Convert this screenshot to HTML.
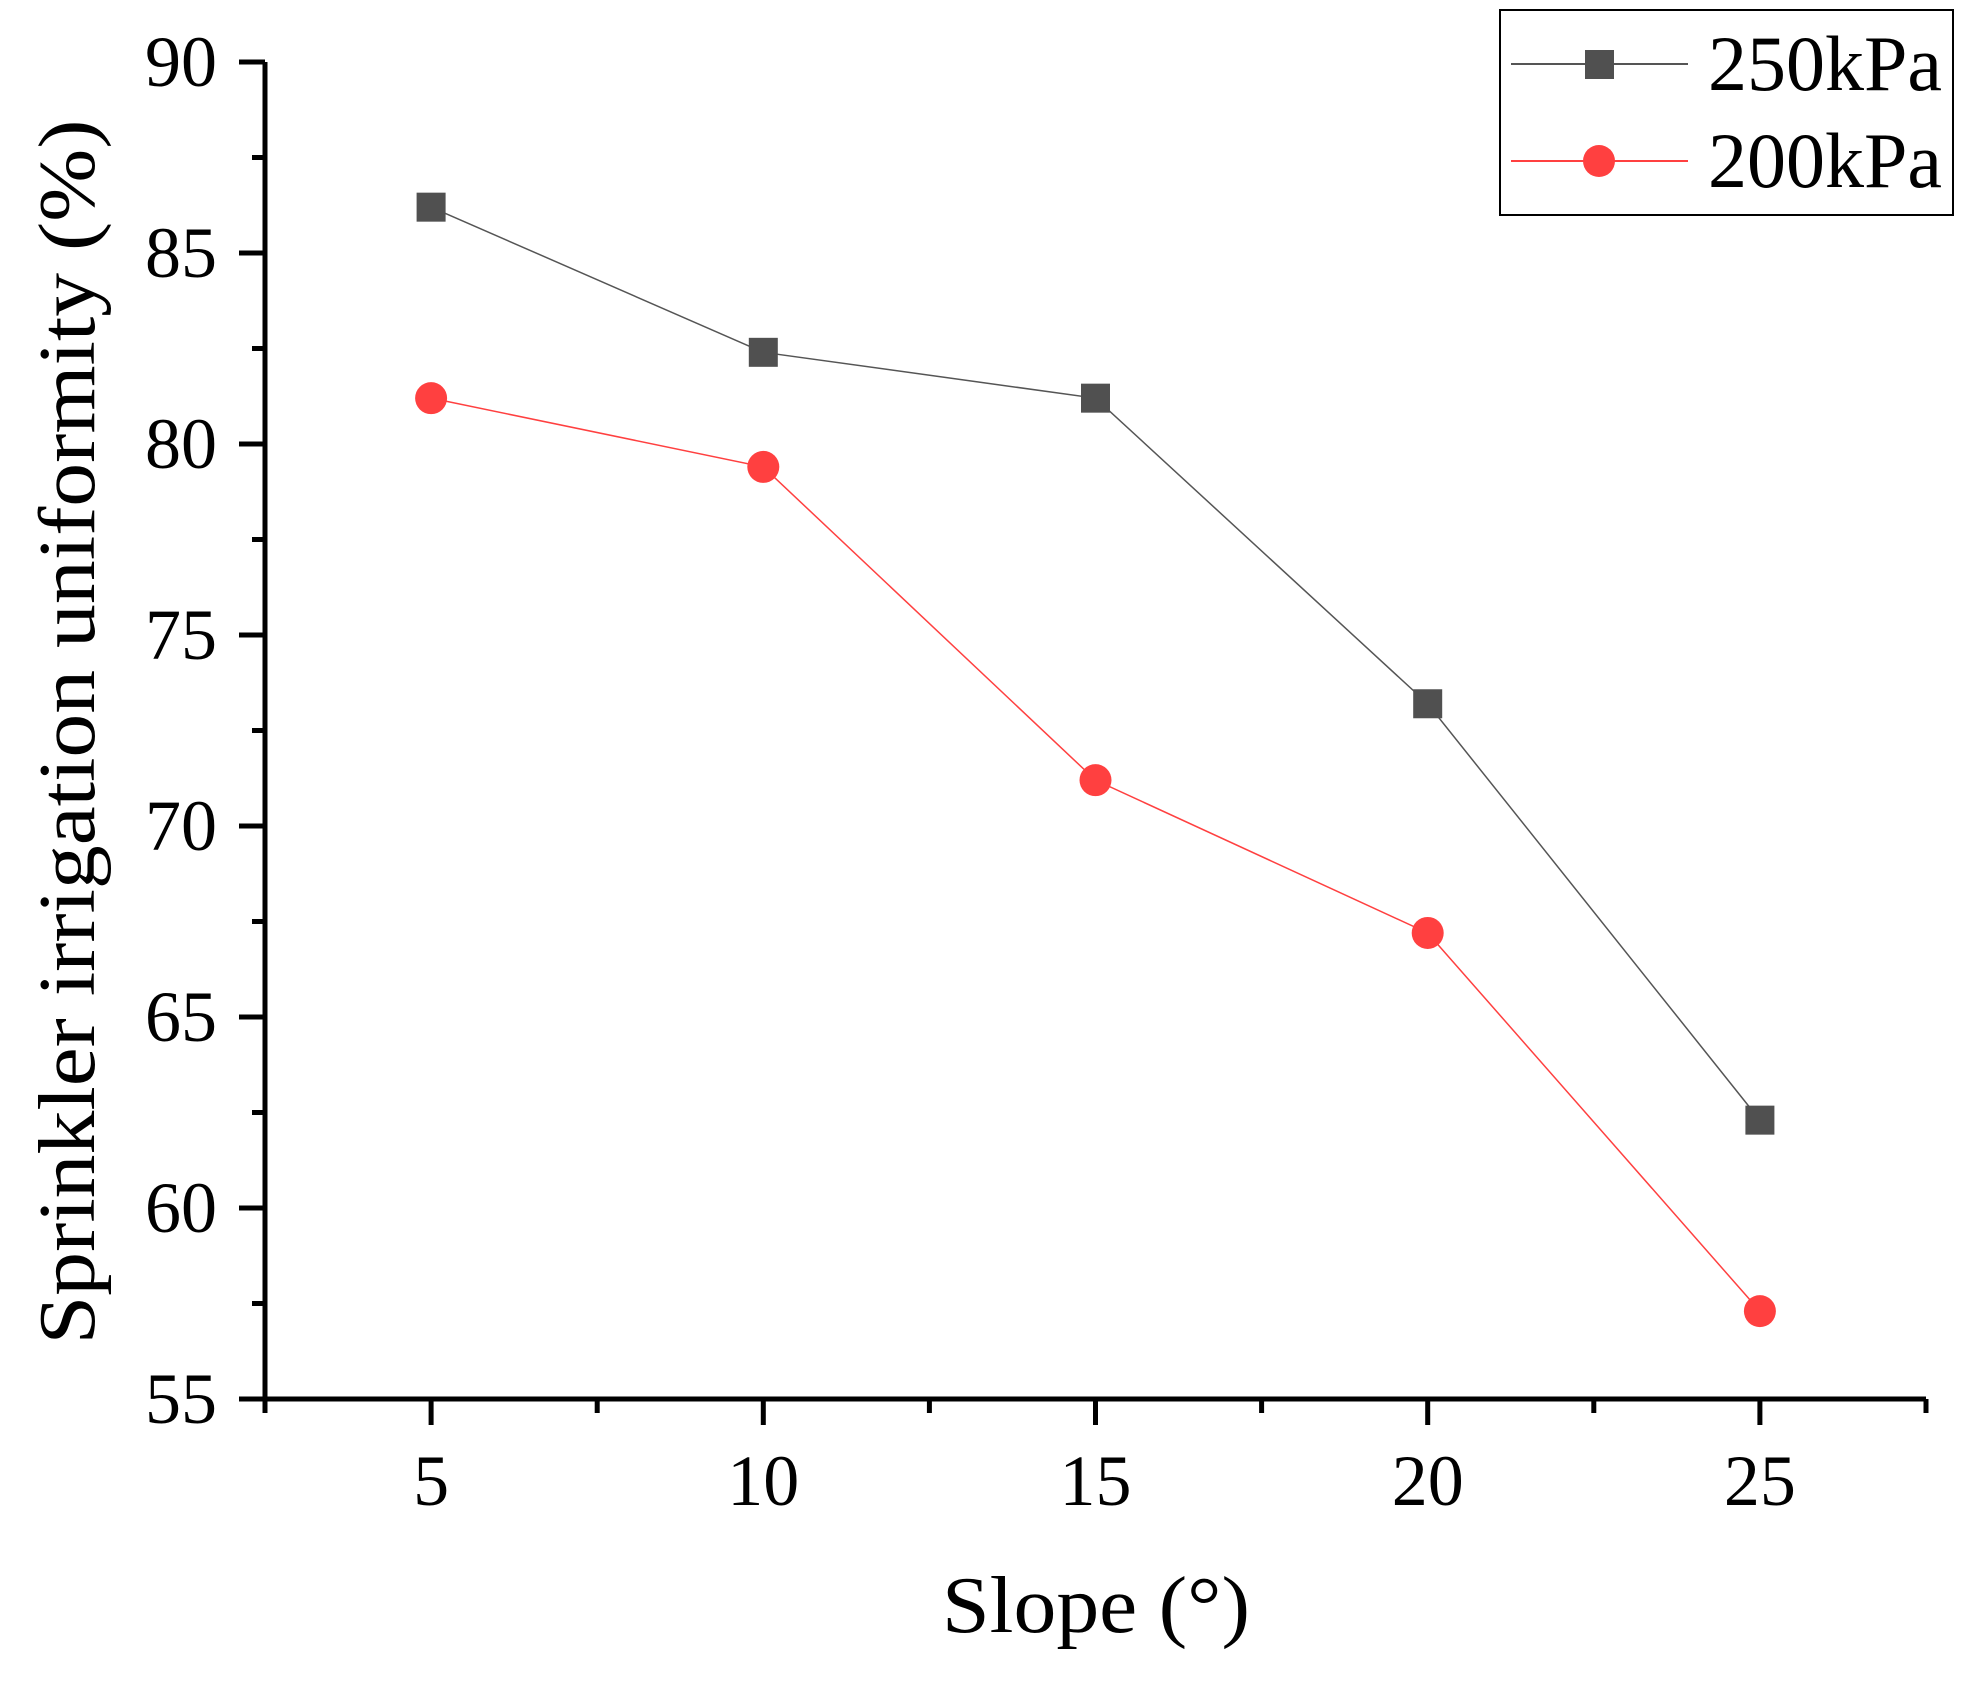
<!DOCTYPE html>
<html><head><meta charset="utf-8"><style>
html,body{margin:0;padding:0;background:#fff;}
svg{display:block;font-family:"Liberation Serif","Times New Roman",serif;}
</style></head><body>
<svg id="chart" width="1969" height="1682" viewBox="0 0 1969 1682" xmlns="http://www.w3.org/2000/svg">
<g id="axes"></g><g id="series"></g>
<text transform="translate(94,732) rotate(-90)" text-anchor="middle" font-size="80" textLength="1225" lengthAdjust="spacingAndGlyphs">Sprinkler irrigation uniformity (%)</text>
<text x="1096" y="1632" text-anchor="middle" font-size="80" textLength="308" lengthAdjust="spacingAndGlyphs">Slope (°)</text>
<g>
<rect x="1500" y="10" width="453" height="205" fill="#fff" stroke="#000" stroke-width="2"/>
<g>
<line x1="1511" y1="64" x2="1688" y2="64" stroke="#555" stroke-width="2"/>
<rect x="1585" y="50" width="29" height="29" fill="#505050"/>
<text x="1708" y="90" font-size="78">250kPa</text></g>
<g>
<line x1="1511" y1="161" x2="1688" y2="161" stroke="#ff4040" stroke-width="2"/>
<circle cx="1599" cy="161" r="16" fill="#ff4040"/>
<text x="1708" y="187" font-size="78">200kPa</text></g>
</g>
</svg>
<script>
const xCategories = [5, 10, 15, 20, 25];
const series250 = [86.2, 82.4, 81.2, 73.2, 62.3];
const series200 = [81.2, 79.4, 71.2, 67.2, 57.3];
const yTickLabels = [55, 60, 65, 70, 75, 80, 85, 90];
const xTickLabels = [5, 10, 15, 20, 25];

const NS = "http://www.w3.org/2000/svg";
const L = 265, R = 1926, T = 62, B = 1399;
const xMin = 2.5, xMax = 27.5, yMin = 55, yMax = 90;
const sx = v => L + (v - xMin) / (xMax - xMin) * (R - L);
const sy = v => B - (v - yMin) / (yMax - yMin) * (B - T);
function mk(tag, attrs, parent) {
  const e = document.createElementNS(NS, tag);
  for (const k in attrs) e.setAttribute(k, attrs[k]);
  parent.appendChild(e);
  return e;
}
const axes = document.getElementById('axes');
const ya = mk('line', {x1: L, y1: T, x2: L, y2: B + 2, stroke: '#000', 'stroke-width': 5}, axes);


const xa = mk('line', {x1: L - 2, y1: B, x2: R, y2: B, stroke: '#000', 'stroke-width': 5}, axes);


yTickLabels.forEach(v => {
  const y = sy(v);
  mk('line', {x1: L - 26, y1: y, x2: L, y2: y, stroke: '#000', 'stroke-width': 5}, axes);
  if (v < yMax) mk('line', {x1: L - 13, y1: sy(v + 2.5), x2: L, y2: sy(v + 2.5), stroke: '#000', 'stroke-width': 5}, axes);
  const t = mk('text', {x: 217, y: y + 24, 'text-anchor': 'end', 'font-size': 72}, axes);
  t.textContent = v;
  
  
});
xTickLabels.forEach(v => {
  const x = sx(v);
  mk('line', {x1: x, y1: B, x2: x, y2: B + 26, stroke: '#000', 'stroke-width': 5}, axes);
  const t = mk('text', {x: x, y: 1505, 'text-anchor': 'middle', 'font-size': 72}, axes);
  t.textContent = v;
  
  
});
[2.5, 7.5, 12.5, 17.5, 22.5, 27.5].forEach(v => {
  mk('line', {x1: sx(v), y1: B, x2: sx(v), y2: B + 14, stroke: '#000', 'stroke-width': 5}, axes);
});
const sg = document.getElementById('series');
function drawSeries(vals, color, shape, name) {
  const g = mk('g', {}, sg);
  
  
  const pts = vals.map((v, i) => sx(xCategories[i]) + ',' + sy(v)).join(' ');
  mk('polyline', {points: pts, fill: 'none', stroke: color, 'stroke-width': 1.5}, g);
  vals.forEach((v, i) => {
    const x = sx(xCategories[i]), y = sy(v);
    let m;
    if (shape === 'square') m = mk('rect', {x: x - 14.5, y: y - 14.5, width: 29, height: 29, fill: '#505050'}, g);
    else m = mk('circle', {cx: x, cy: y, r: 16, fill: '#ff4040'}, g);
    
    
  });
}
drawSeries(series250, '#555', 'square', 'series-250kpa');
drawSeries(series200, '#ff4040', 'circle', 'series-200kpa');
</script>
</body></html>
